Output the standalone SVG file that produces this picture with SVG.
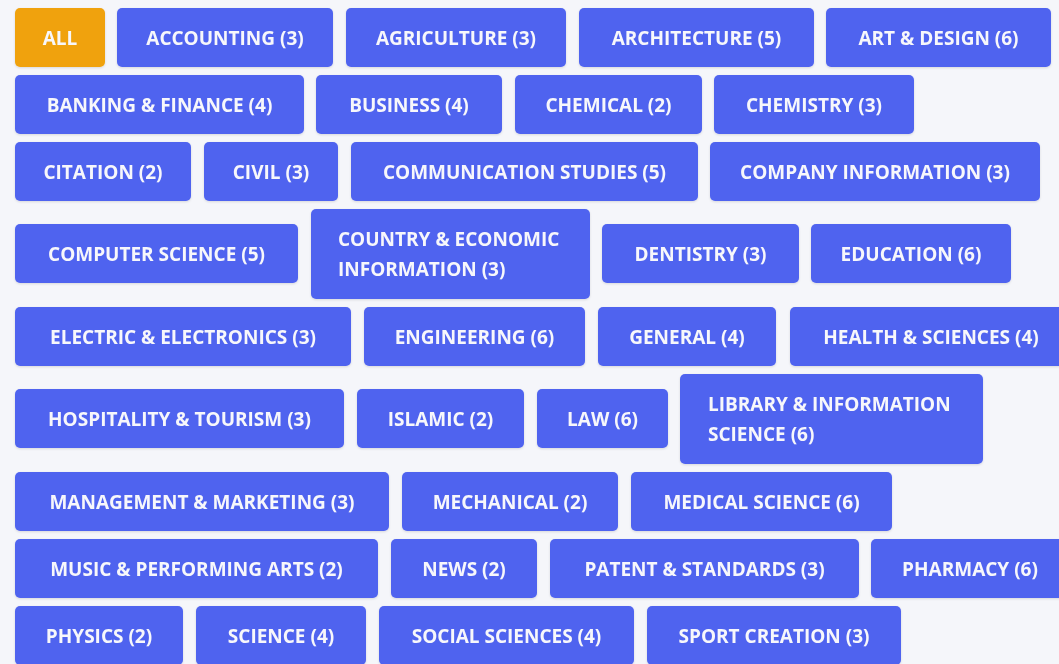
<svg xmlns="http://www.w3.org/2000/svg" width="1059" height="664" viewBox="0 0 1059 664">
<style>
.b{fill:#5064ef;}
.o{fill:#f0a20e;}
.t{font-family:"Open Sans","Noto Sans",sans-serif;font-weight:700;font-size:19px;fill:#f7f7fb;text-anchor:middle;}
.l{font-family:"Open Sans","Noto Sans",sans-serif;font-weight:700;font-size:19px;fill:#f7f7fb;}
</style>
<defs>
<filter id="sh" x="-5%" y="-10%" width="110%" height="130%">
<feDropShadow dx="0" dy="1" stdDeviation="1" flood-color="#000" flood-opacity="0.12"/>
</filter>
</defs>
<rect width="1059" height="664" fill="#f5f6fa"/>
<g filter="url(#sh)">
<g id="all"><rect class="o" x="15" y="8" width="90" height="59" rx="5"/><text class="t" x="60" y="45">ALL</text></g>
<g id="accounting"><rect class="b" x="117" y="8" width="216" height="59" rx="5"/><text class="t" x="225" y="45">ACCOUNTING (3)</text></g>
<g id="agriculture"><rect class="b" x="346" y="8" width="220" height="59" rx="5"/><text class="t" x="456" y="45">AGRICULTURE (3)</text></g>
<g id="architecture"><rect class="b" x="579" y="8" width="235" height="59" rx="5"/><text class="t" x="696.5" y="45">ARCHITECTURE (5)</text></g>
<g id="art"><rect class="b" x="826" y="8" width="225" height="59" rx="5"/><text class="t" x="938.5" y="45">ART &amp; DESIGN (6)</text></g>

<g id="banking"><rect class="b" x="15" y="75" width="289" height="59" rx="5"/><text class="t" x="159.5" y="112">BANKING &amp; FINANCE (4)</text></g>
<g id="business"><rect class="b" x="316" y="75" width="186" height="59" rx="5"/><text class="t" x="409" y="112">BUSINESS (4)</text></g>
<g id="chemical"><rect class="b" x="515" y="75" width="187" height="59" rx="5"/><text class="t" x="608.5" y="112">CHEMICAL (2)</text></g>
<g id="chemistry"><rect class="b" x="714" y="75" width="200" height="59" rx="5"/><text class="t" x="814" y="112">CHEMISTRY (3)</text></g>

<g id="citation"><rect class="b" x="15" y="142" width="176" height="59" rx="5"/><text class="t" x="103" y="179">CITATION (2)</text></g>
<g id="civil"><rect class="b" x="204" y="142" width="134" height="59" rx="5"/><text class="t" x="271" y="179">CIVIL (3)</text></g>
<g id="communication"><rect class="b" x="351" y="142" width="347" height="59" rx="5"/><text class="t" x="524.5" y="179">COMMUNICATION STUDIES (5)</text></g>
<g id="company"><rect class="b" x="710" y="142" width="330" height="59" rx="5"/><text class="t" x="875" y="179">COMPANY INFORMATION (3)</text></g>

<g id="computer"><rect class="b" x="15" y="224" width="283" height="59" rx="5"/><text class="t" x="156.5" y="261">COMPUTER SCIENCE (5)</text></g>
<g id="country"><rect class="b" x="311" y="209" width="279" height="90" rx="5"/><text class="l" x="338" y="245.5">COUNTRY &amp; ECONOMIC</text><text class="l" x="338" y="275.5">INFORMATION (3)</text></g>
<g id="dentistry"><rect class="b" x="602" y="224" width="197" height="59" rx="5"/><text class="t" x="700.5" y="261">DENTISTRY (3)</text></g>
<g id="education"><rect class="b" x="811" y="224" width="200" height="59" rx="5"/><text class="t" x="911" y="261">EDUCATION (6)</text></g>

<g id="electric"><rect class="b" x="15" y="307" width="336" height="59" rx="5"/><text class="t" x="183" y="344">ELECTRIC &amp; ELECTRONICS (3)</text></g>
<g id="engineering"><rect class="b" x="364" y="307" width="221" height="59" rx="5"/><text class="t" x="474.5" y="344">ENGINEERING (6)</text></g>
<g id="general"><rect class="b" x="598" y="307" width="178" height="59" rx="5"/><text class="t" x="687" y="344">GENERAL (4)</text></g>
<g id="health"><rect class="b" x="790" y="307" width="283" height="59" rx="5"/><text class="t" x="931" y="344">HEALTH &amp; SCIENCES (4)</text></g>

<g id="hospitality"><rect class="b" x="15" y="389" width="329" height="59" rx="5"/><text class="t" x="179.5" y="426">HOSPITALITY &amp; TOURISM (3)</text></g>
<g id="islamic"><rect class="b" x="357" y="389" width="167" height="59" rx="5"/><text class="t" x="440.5" y="426">ISLAMIC (2)</text></g>
<g id="law"><rect class="b" x="537" y="389" width="131" height="59" rx="5"/><text class="t" x="602.5" y="426">LAW (6)</text></g>
<g id="library"><rect class="b" x="680" y="374" width="303" height="90" rx="5"/><text class="l" x="708" y="410.5">LIBRARY &amp; INFORMATION</text><text class="l" x="708" y="440.5">SCIENCE (6)</text></g>

<g id="management"><rect class="b" x="15" y="472" width="374" height="59" rx="5"/><text class="t" x="202" y="509">MANAGEMENT &amp; MARKETING (3)</text></g>
<g id="mechanical"><rect class="b" x="402" y="472" width="216" height="59" rx="5"/><text class="t" x="510" y="509">MECHANICAL (2)</text></g>
<g id="medical"><rect class="b" x="631" y="472" width="261" height="59" rx="5"/><text class="t" x="761.5" y="509">MEDICAL SCIENCE (6)</text></g>

<g id="music"><rect class="b" x="15" y="539" width="363" height="59" rx="5"/><text class="t" x="196.5" y="576">MUSIC &amp; PERFORMING ARTS (2)</text></g>
<g id="news"><rect class="b" x="391" y="539" width="146" height="59" rx="5"/><text class="t" x="464" y="576">NEWS (2)</text></g>
<g id="patent"><rect class="b" x="550" y="539" width="309" height="59" rx="5"/><text class="t" x="704.5" y="576">PATENT &amp; STANDARDS (3)</text></g>
<g id="pharmacy"><rect class="b" x="871" y="539" width="198" height="59" rx="5"/><text class="t" x="970" y="576">PHARMACY (6)</text></g>

<g id="physics"><rect class="b" x="15" y="606" width="168" height="59" rx="5"/><text class="t" x="99" y="643">PHYSICS (2)</text></g>
<g id="science"><rect class="b" x="196" y="606" width="170" height="59" rx="5"/><text class="t" x="281" y="643">SCIENCE (4)</text></g>
<g id="social"><rect class="b" x="379" y="606" width="255" height="59" rx="5"/><text class="t" x="506.5" y="643">SOCIAL SCIENCES (4)</text></g>
<g id="sport"><rect class="b" x="647" y="606" width="254" height="59" rx="5"/><text class="t" x="774" y="643">SPORT CREATION (3)</text></g>
</g>
<g id="connectors"/>
</svg>
